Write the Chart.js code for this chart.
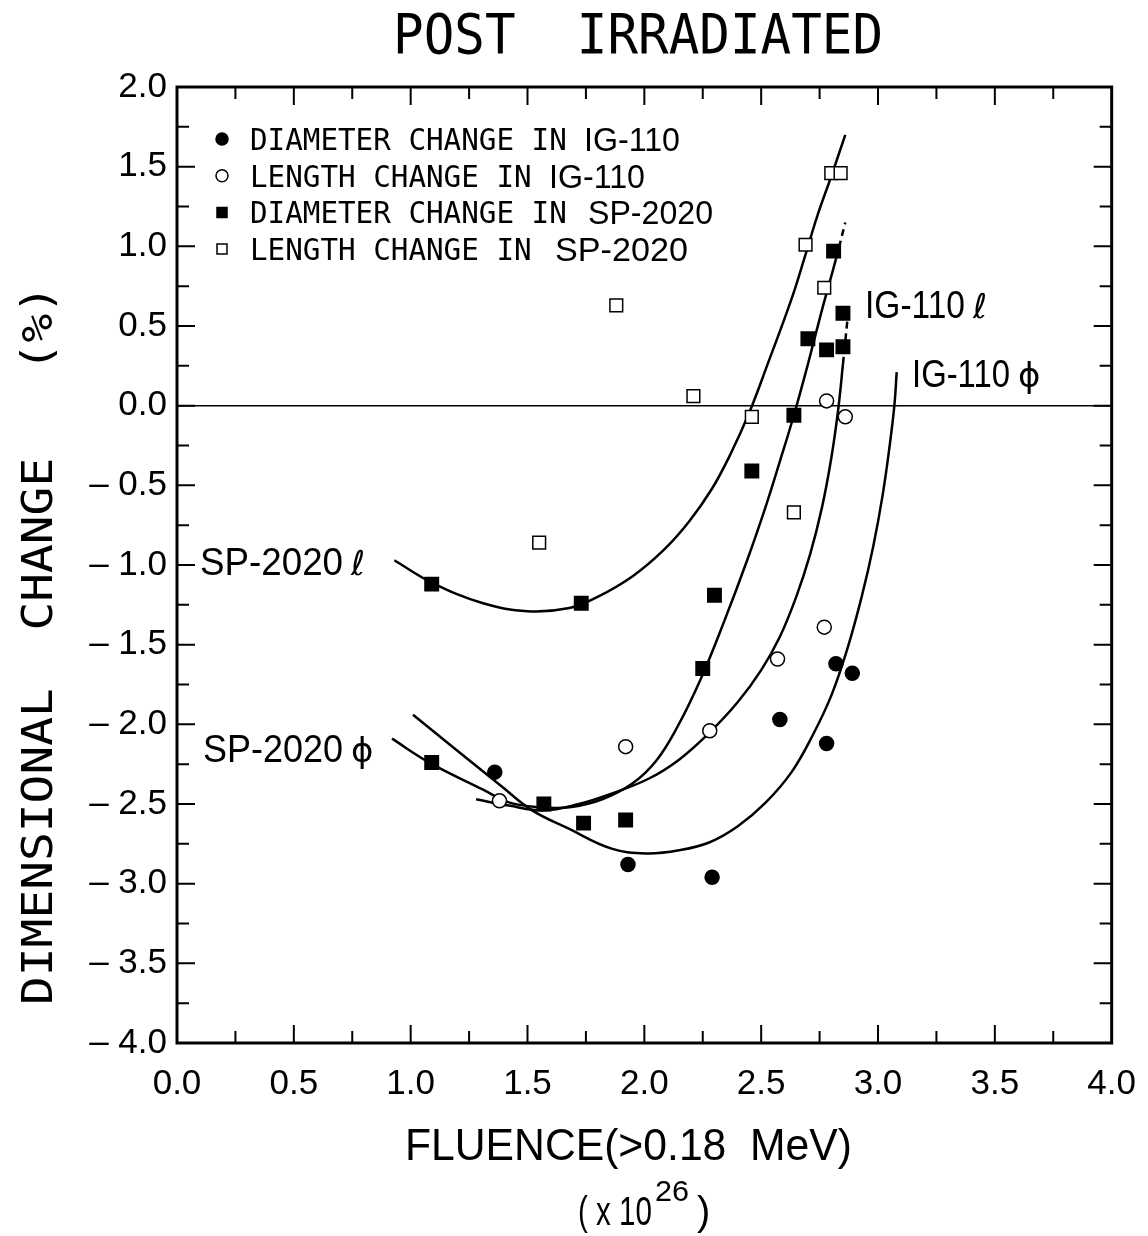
<!DOCTYPE html>
<html>
<head>
<meta charset="utf-8">
<script src="https://cdn.jsdelivr.net/npm/chart.js@4.4.1/dist/chart.umd.min.js"></script>
<style>
  html, body { margin: 0; padding: 0; background: #fff; }
  canvas { display: block; }
</style>
</head>
<body>
<canvas id="myChart" width="1148" height="1236"></canvas>
<script>
// measured points, fluence (x10^26) vs dimensional change (%)
var igDiaX = [1.36, 1.93, 2.29, 2.58, 2.78, 2.82, 2.89];
var igDiaY = [-2.30, -2.88, -2.96, -1.97, -2.12, -1.62, -1.68];

var igLenX = [1.38, 1.92, 2.28, 2.57, 2.77, 2.78, 2.86];
var igLenY = [-2.48, -2.14, -2.04, -1.59, -1.39, 0.03, -0.07];

var spDiaX = [1.09, 1.73, 1.09, 1.57, 1.74, 1.92, 2.25, 2.30, 2.46, 2.64, 2.70, 2.78, 2.85, 2.85, 2.81];
var spDiaY = [-1.12, -1.24, -2.24, -2.50, -2.62, -2.60, -1.65, -1.19, -0.41, -0.06, 0.42, 0.35, 0.37, 0.58, 0.97];

var spLenX = [1.55, 1.88, 2.21, 2.46, 2.64, 2.69, 2.77, 2.80, 2.84];
var spLenY = [-0.86, 0.63, 0.06, -0.07, -0.67, 1.01, 0.74, 1.46, 1.46];

// hand drawn trend curves
var spLenFitX = [0.93, 1.09, 1.31, 1.50, 1.68, 1.80, 1.95, 2.08, 2.19, 2.29, 2.37, 2.45, 2.53, 2.63, 2.69, 2.74, 2.80, 2.86];
var spLenFitY = [-0.97, -1.11, -1.24, -1.29, -1.27, -1.20, -1.07, -0.91, -0.73, -0.52, -0.30, -0.04, 0.27, 0.67, 0.95, 1.19, 1.44, 1.70];

var spDiaFitX = [0.92, 1.08, 1.31, 1.42, 1.55, 1.68, 1.82, 1.95, 2.05, 2.14, 2.24, 2.34, 2.44, 2.52, 2.58, 2.64, 2.70, 2.76, 2.82, 2.86];
var spDiaFitY = [-2.09, -2.24, -2.41, -2.49, -2.52, -2.52, -2.47, -2.37, -2.23, -2.02, -1.72, -1.36, -0.97, -0.63, -0.35, -0.06, 0.26, 0.60, 0.92, 1.15];

var igLenFitX = [1.28, 1.42, 1.57, 1.72, 1.85, 2.02, 2.15, 2.28, 2.40, 2.50, 2.58, 2.65, 2.71, 2.76, 2.80, 2.83, 2.85, 2.87];
var igLenFitY = [-2.47, -2.51, -2.54, -2.50, -2.44, -2.34, -2.22, -2.05, -1.86, -1.66, -1.45, -1.20, -0.93, -0.64, -0.33, -0.02, 0.26, 0.55];

var igDiaFitX = [1.01, 1.39, 1.52, 1.67, 1.86, 2.01, 2.15, 2.28, 2.40, 2.52, 2.63, 2.72, 2.80, 2.87, 2.93, 2.98, 3.02, 3.05, 3.07, 3.08];
var igDiaFitY = [-1.94, -2.39, -2.54, -2.65, -2.78, -2.81, -2.79, -2.74, -2.64, -2.49, -2.30, -2.07, -1.82, -1.52, -1.20, -0.88, -0.56, -0.25, 0.00, 0.21];

var MONO = '"DejaVu Sans Mono", monospace';
var SANS = '"Liberation Sans", Arial, sans-serif';

function pts(xs, ys) {
    return xs.map(function (x, i) { return { x: x, y: ys[i] }; });
}

function fitText(ctx, text, x, y, font, width, align, angle) {
    ctx.save();
    ctx.font = font;
    var w = ctx.measureText(text).width;
    ctx.translate(x, y);
    if (angle) ctx.rotate(angle);
    ctx.scale(width ? width / w : 1, 1);
    ctx.textAlign = align || 'left';
    ctx.textBaseline = 'alphabetic';
    ctx.fillStyle = '#000';
    ctx.fillText(text, 0, 0);
    ctx.restore();
}

function marker(ctx, style, filled, x, y, r) {
    ctx.save();
    ctx.beginPath();
    if (style === 'circle') ctx.arc(x, y, r, 0, Math.PI * 2);
    else ctx.rect(x - r, y - r, 2 * r, 2 * r);
    ctx.fillStyle = filled ? '#000' : '#fff';
    ctx.fill();
    ctx.lineWidth = 1.5;
    ctx.strokeStyle = '#000';
    ctx.stroke();
    ctx.restore();
}

var legendRows = [
    { style: 'circle', filled: true, text: 'DIAMETER CHANGE IN', mat: 'IG-110', mx: 584, mw: 96 },
    { style: 'circle', filled: false, text: 'LENGTH CHANGE IN', mat: 'IG-110', mx: 549, mw: 96 },
    { style: 'rect', filled: true, text: 'DIAMETER CHANGE IN', mat: 'SP-2020', mx: 588, mw: 125 },
    { style: 'rect', filled: false, text: 'LENGTH CHANGE IN', mat: 'SP-2020', mx: 555, mw: 133 }
];

var curveLabels = [
    { text: 'SP-2020', sym: '\u2113', x: 200, y: 575, w: 143 },
    { text: 'SP-2020', sym: '\u03d5', x: 203, y: 762, w: 140 },
    { text: 'IG-110', sym: '\u2113', x: 865, y: 318, w: 100 },
    { text: 'IG-110', sym: '\u03d5', x: 912, y: 387, w: 98 }
];

var decorations = {
    id: 'decorations',
    afterDatasetsDraw: function (chart) {
        var ctx = chart.ctx, a = chart.chartArea;
        var xs = chart.scales.x, ys = chart.scales.y;
        var i, v, p, len;

        ctx.save();
        ctx.strokeStyle = '#000';
        ctx.lineWidth = 2;
        ctx.beginPath();
        for (i = 1; i < 16; i++) {
            v = i * 0.25;
            p = xs.getPixelForValue(v);
            len = i % 2 === 0 ? 18 : 12;
            ctx.moveTo(p, a.bottom); ctx.lineTo(p, a.bottom - len);
            ctx.moveTo(p, a.top); ctx.lineTo(p, a.top + len);
        }
        for (i = 1; i < 24; i++) {
            v = -4 + i * 0.25;
            p = ys.getPixelForValue(v);
            len = i % 2 === 0 ? 18 : 12;
            ctx.moveTo(a.left, p); ctx.lineTo(a.left + len, p);
            ctx.moveTo(a.right, p); ctx.lineTo(a.right - len, p);
        }
        ctx.stroke();
        ctx.lineWidth = 3;
        ctx.strokeRect(a.left, a.top, a.right - a.left, a.bottom - a.top);
        ctx.restore();

        // legend
        legendRows.forEach(function (row, k) {
            var y = 150 + k * 36.7;
            marker(ctx, row.style, row.filled, 222, y - 11, row.style === 'circle' ? 6 : 5);
            fitText(ctx, row.text, 250, y, '31px ' + MONO, row.text.length * 17.6);
            fitText(ctx, row.mat, row.mx, y + 1, '33px ' + SANS, row.mw);
        });

        // curve labels
        curveLabels.forEach(function (c) {
            fitText(ctx, c.text, c.x, c.y, '38px ' + SANS, c.w);
            fitText(ctx, c.sym, c.x + c.w + 8, c.y, c.sym === '\u2113' ? 'italic 34px "DejaVu Sans"' : '34px "DejaVu Sans"', 0);
        });

        // titles
        fitText(ctx, 'POST  IRRADIATED', 638, 53, '56px ' + MONO, 490, 'center');
        fitText(ctx, 'DIMENSIONAL  CHANGE   (%)', 52, 645, '42px ' + MONO, 720, 'center', -Math.PI / 2);
        fitText(ctx, 'FLUENCE(>0.18  MeV)', 405, 1160, '44px ' + SANS, 447);
        fitText(ctx, '( x 10', 578, 1225, '40px ' + SANS, 74);
        fitText(ctx, '26', 655, 1201, '30px ' + SANS, 34);
        fitText(ctx, ')', 697, 1225, '40px ' + SANS, 0);
    }
};

function curve(xs, ys, dashedTip) {
    var last = xs.length - 1;
    return {
        type: 'line',
        data: pts(xs, ys),
        borderColor: '#000',
        borderWidth: 2.5,
        pointRadius: 0,
        fill: false,
        tension: 0.4,
        segment: {
            borderDash: function (c) { return dashedTip && c.p1DataIndex === last ? [7, 5] : undefined; }
        },
        order: 1
    };
}

function dots(label, xs, ys, style, filled, r) {
    return {
        label: label,
        data: pts(xs, ys),
        pointStyle: style,
        pointRadius: r,
        backgroundColor: filled ? '#000' : '#fff',
        borderColor: '#000',
        borderWidth: 1.5,
        showLine: false,
        order: 0
    };
}

var ctx = document.getElementById('myChart').getContext('2d');
var chart = new Chart(ctx, {
    type: 'scatter',
    data: {
        datasets: [
            curve(spLenFitX, spLenFitY, false),
            curve(spDiaFitX, spDiaFitY, true),
            curve(igLenFitX, igLenFitY, true),
            curve(igDiaFitX, igDiaFitY, false),
            dots('DIAMETER CHANGE IN IG-110', igDiaX, igDiaY, 'circle', true, 7),
            dots('LENGTH CHANGE IN IG-110', igLenX, igLenY, 'circle', false, 7),
            dots('DIAMETER CHANGE IN SP-2020', spDiaX, spDiaY, 'rect', true, 9.5),
            dots('LENGTH CHANGE IN SP-2020', spLenX, spLenY, 'rect', false, 9)
        ]
    },
    options: {
        responsive: false,
        animation: false,
        layout: { padding: { left: 0, right: 35, top: 87, bottom: 0 } },
        plugins: {
            legend: { display: false },
            tooltip: { enabled: false }
        },
        scales: {
            x: {
                type: 'linear',
                min: 0,
                max: 4,
                grid: { display: false },
                border: { display: false },
                ticks: {
                    stepSize: 0.5,
                    padding: 12,
                    color: '#000',
                    font: { family: SANS, size: 35 },
                    callback: function (v) { return v.toFixed(1); }
                },
                afterFit: function (scale) { scale.height = 193; }
            },
            y: {
                min: -4,
                max: 2,
                grid: {
                    drawTicks: false,
                    lineWidth: 1.5,
                    color: function (c) { return c.tick && c.tick.value === 0 ? '#000' : 'rgba(0,0,0,0)'; }
                },
                border: { display: false },
                ticks: {
                    stepSize: 0.5,
                    padding: 10,
                    color: '#000',
                    font: { family: SANS, size: 35 },
                    callback: function (v) {
                        return v < 0 ? '\u2013 ' + Math.abs(v).toFixed(1) : v.toFixed(1);
                    }
                },
                afterFit: function (scale) { scale.width = 177; }
            }
        }
    },
    plugins: [decorations]
});
</script>
</body>
</html>
